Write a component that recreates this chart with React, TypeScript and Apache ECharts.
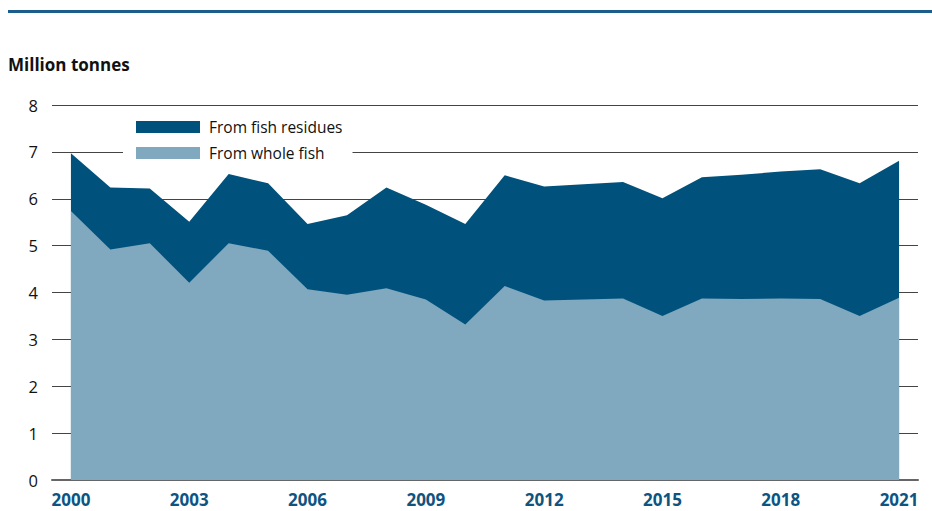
import React, { useEffect, useRef } from "react";
import * as echarts from "echarts";

const years = [2000, 2001, 2002, 2003, 2004, 2005, 2006, 2007, 2008, 2009, 2010, 2011, 2012, 2013, 2014, 2015, 2016, 2017, 2018, 2019, 2020, 2021];
const wholeFish = [5.74, 4.92, 5.05, 4.21, 5.05, 4.89, 4.07, 3.95, 4.09, 3.85, 3.32, 4.14, 3.83, 3.85, 3.87, 3.5, 3.87, 3.86, 3.87, 3.86, 3.5, 3.89];
const fishResidues = [1.23, 1.32, 1.17, 1.3, 1.48, 1.44, 1.39, 1.7, 2.15, 2.02, 2.14, 2.36, 2.43, 2.46, 2.49, 2.51, 2.59, 2.65, 2.71, 2.77, 2.83, 2.92];
const yearTicks = [2000, 2003, 2006, 2009, 2012, 2015, 2018, 2021];
const seriesNames = ["From fish residues", "From whole fish"];

const FONT = "'Open Sans', 'Noto Sans', sans-serif";

export default function App() {
  const ref = useRef<HTMLDivElement>(null);
  useEffect(() => {
    if (!ref.current) return;
    const chart = echarts.init(ref.current, null, { renderer: "svg" });
    // stacked top of the residues band = whole fish + residues
    const stackedTop = years.map((y, i) => [y, wholeFish[i] + fishResidues[i]]);
    chart.setOption({
      animation: false,
      backgroundColor: "#ffffff",
      textStyle: { fontFamily: FONT },
      grid: { left: 52, right: 14, top: 105, bottom: 31, containLabel: false },
      graphic: [
        { type: "rect", shape: { x: 8, y: 10, width: 924, height: 3 }, style: { fill: "#1b5e8c" } },
        {
          type: "text",
          left: 8,
          top: 56,
          style: { text: "Million tonnes", font: `bold 17px ${FONT}`, fill: "#111" },
        },
      ],
      legend: {
        orient: "vertical",
        left: 123,
        top: 114,
        padding: [5, 10, 5, 13],
        backgroundColor: "#ffffff",
        itemWidth: 64,
        itemHeight: 12,
        itemGap: 10,
        icon: "rect",
        data: seriesNames,
        textStyle: { fontSize: 15.5, color: "#111", fontFamily: FONT, padding: [0, 0, 0, 4] },
      },
      xAxis: {
        type: "value",
        min: 1999.52,
        max: 2021.48,
        splitLine: { show: false },
        axisTick: { show: false },
        axisLine: { show: true, lineStyle: { color: "#666", width: 2 } },
        axisLabel: {
          customValues: yearTicks,
          formatter: (v: number) => String(v),
          fontSize: 17,
          fontWeight: "bold",
          color: "#0f5480",
          fontFamily: FONT,
          margin: 11,
        },
      },
      yAxis: {
        type: "value",
        min: 0,
        max: 8,
        interval: 1,
        axisLine: { show: false },
        axisTick: { show: false },
        splitLine: { show: true, lineStyle: { color: "#444", width: 1 } },
        axisLabel: { fontSize: 16.5, color: "#111", fontFamily: FONT, margin: 14 },
      },
      series: [
        {
          name: "From fish residues",
          type: "line",
          symbol: "none",
          lineStyle: { width: 0 },
          itemStyle: { color: "#00527c" },
          areaStyle: { color: "#00527c", opacity: 1, origin: "start" },
          data: stackedTop,
          z: 3,
        },
        {
          name: "From whole fish",
          type: "line",
          symbol: "none",
          lineStyle: { width: 0 },
          itemStyle: { color: "#80a8bf" },
          areaStyle: { color: "#80a8bf", opacity: 1, origin: "start" },
          data: years.map((y, i) => [y, wholeFish[i]]),
          z: 4,
        },
      ],
    });
    return () => chart.dispose();
  }, []);
  return <div ref={ref} style={{ width: 932, height: 511, position: "absolute", left: 0, top: 0 }} />;
}
